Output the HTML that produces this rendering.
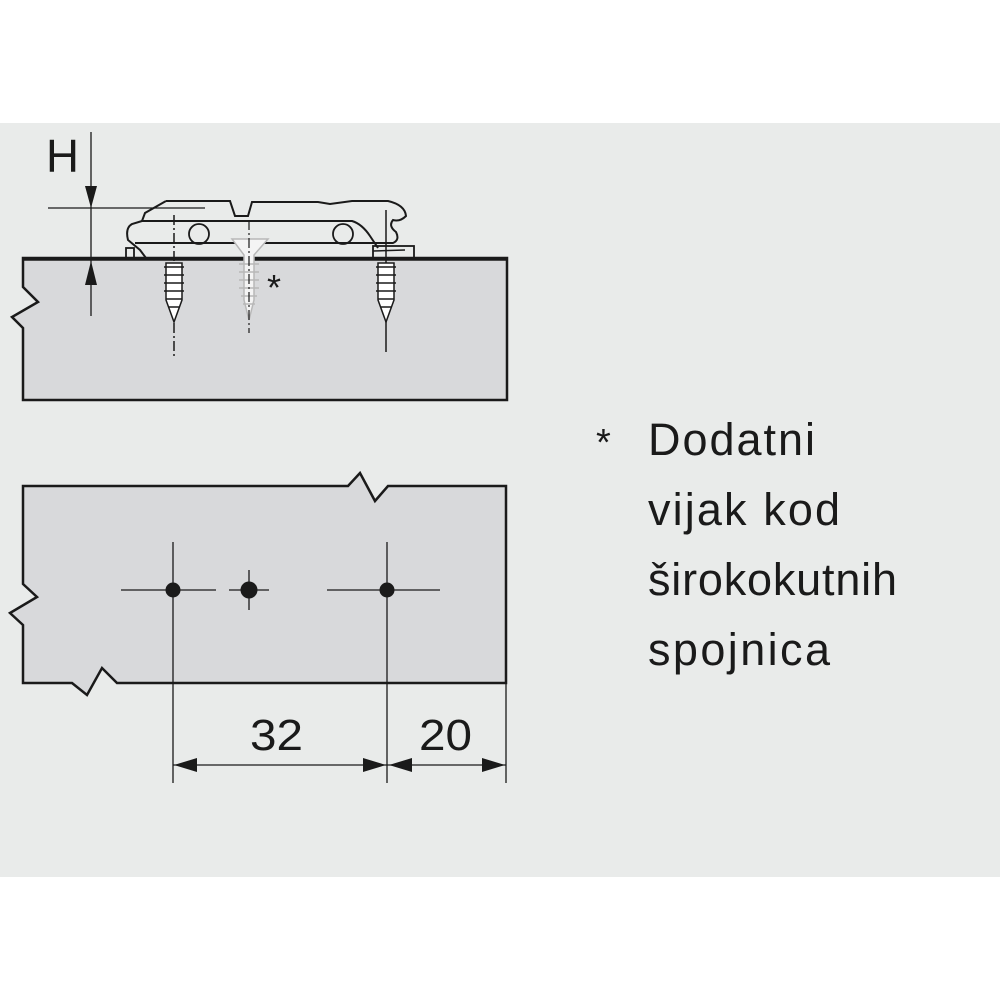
<!DOCTYPE html>
<html><head><style>
html,body{margin:0;padding:0;background:#fff;}
</style></head><body>
<svg width="1000" height="1000" viewBox="0 0 1000 1000" xmlns="http://www.w3.org/2000/svg" font-family="Liberation Sans, sans-serif">
<rect x="0" y="0" width="1000" height="1000" fill="#fff"/>
<rect x="0" y="123" width="1000" height="754" fill="#e9ebea"/>
<!-- top board -->
<path d="M23,258 L507,258 L507,400 L23,400 L23,328 L12,317 L38,302 L23,287 Z" fill="#d8d9db" stroke="#1a1a1a" stroke-width="2.5"/>
<line x1="23" y1="259" x2="507" y2="259" stroke="#1a1a1a" stroke-width="3.5"/>
<!-- H dimension -->
<text x="46" y="172" font-size="46" fill="#1a1a1a" textLength="33" lengthAdjust="spacingAndGlyphs">H</text>
<line x1="91" y1="132" x2="91" y2="316" stroke="#1a1a1a" stroke-width="1.3"/>
<polygon points="85,186 97,186 91,208" fill="#1a1a1a"/>
<polygon points="85,285 97,285 91,261" fill="#1a1a1a"/>
<line x1="48" y1="208" x2="205" y2="208" stroke="#1a1a1a" stroke-width="1.3"/>
<!-- hinge plate -->
<path d="M166,201 L230,201 L235,216 L248,216 L252,202 L318,202 L330,204 L352,201 L388,201 Q405,205 406,216 Q400,222 393,220 Q388,226 396,232 Q400,240 393,243 L135,243" fill="none" stroke="#1a1a1a" stroke-width="2"/>
<path d="M166,201 L145,213 L142,221 L352,221 Q362,224 370,236 L378,248" fill="none" stroke="#1a1a1a" stroke-width="2"/>
<path d="M142,221 L132,224 Q125,228 128,240 L140,250 L146,258" fill="none" stroke="#1a1a1a" stroke-width="2"/>
<rect x="126" y="248" width="8" height="10" fill="none" stroke="#1a1a1a" stroke-width="1.8"/>
<rect x="373" y="246" width="41" height="12" fill="none" stroke="#1a1a1a" stroke-width="1.8"/>
<line x1="373" y1="251" x2="405" y2="250" stroke="#1a1a1a" stroke-width="1.5"/>
<circle cx="199" cy="234" r="10" fill="none" stroke="#1a1a1a" stroke-width="1.8"/>
<circle cx="343" cy="234" r="10" fill="none" stroke="#1a1a1a" stroke-width="1.8"/>
<!-- screws -->
<g stroke="#1a1a1a" stroke-width="1.5" fill="none">
<line x1="174" y1="215" x2="174" y2="357" stroke-dasharray="10,3,2,3"/>
<path d="M166,263 L182,263 L182,300 L174,322 L166,300 Z" fill="#fff"/>
<path d="M164,267 h20 M164,275 h20 M164,283 h20 M164,291 h20 M166,299 h16 M168,307 h12"/>
<line x1="386" y1="210" x2="386" y2="352"/>
<path d="M378,263 L394,263 L394,300 L386,322 L378,300 Z" fill="#fff"/>
<path d="M376,267 h20 M376,275 h20 M376,283 h20 M376,291 h20 M378,299 h16 M380,307 h12"/>
</g>
<g stroke="#b8b8b8" stroke-width="1.5" fill="#f4f4f4">
<path d="M232,239 L268,239 L254,255 L254,300 L249,320 L244,300 L244,255 Z"/>
<path d="M239,264 h20 M239,272 h20 M239,280 h20 M239,288 h20 M241,296 h16 M243,304 h12" fill="none"/>
</g>
<line x1="249" y1="220" x2="249" y2="333" stroke="#1a1a1a" stroke-width="1.2" stroke-dasharray="10,3,2,3"/>
<text x="267" y="300" font-size="36" fill="#1a1a1a">*</text>
<!-- bottom board -->
<path d="M23,486 L348,486 L360,473 L375,501 L388,486 L506,486 L506,683 L117,683 L102,668 L87,695 L72,683 L23,683 L23,625 L10,613 L37,597 L23,584 Z" fill="#d8d9db" stroke="#1a1a1a" stroke-width="2.5"/>
<g stroke="#1a1a1a" stroke-width="1.3">
<line x1="121" y1="590" x2="216" y2="590"/>
<line x1="229" y1="590" x2="269" y2="590"/>
<line x1="327" y1="590" x2="440" y2="590"/>
<line x1="173" y1="542" x2="173" y2="783"/>
<line x1="249" y1="570" x2="249" y2="610"/>
<line x1="387" y1="542" x2="387" y2="783"/>
<line x1="506" y1="683" x2="506" y2="783"/>
<line x1="173" y1="765" x2="506" y2="765"/>
</g>
<circle cx="173" cy="590" r="7.5" fill="#1a1a1a"/>
<circle cx="249" cy="590" r="8.5" fill="#1a1a1a"/>
<circle cx="387" cy="590" r="7.5" fill="#1a1a1a"/>
<g fill="#1a1a1a">
<polygon points="174,765 197,758 197,772"/>
<polygon points="386,765 363,758 363,772"/>
<polygon points="389,765 412,758 412,772"/>
<polygon points="505,765 482,758 482,772"/>
</g>
<text x="250" y="750" font-size="44" fill="#1a1a1a" textLength="53" lengthAdjust="spacingAndGlyphs">32</text>
<text x="419" y="750" font-size="44" fill="#1a1a1a" textLength="53" lengthAdjust="spacingAndGlyphs">20</text>
<!-- note -->
<g font-size="45" fill="#1a1a1a" lengthAdjust="spacingAndGlyphs">
<text x="596" y="455" font-size="38">*</text>
<text x="648" y="455" textLength="167">Dodatni</text>
<text x="648" y="525" textLength="192">vijak kod</text>
<text x="648" y="595" textLength="249">širokokutnih</text>
<text x="648" y="665" textLength="182">spojnica</text>
</g>
</svg>
</body></html>
